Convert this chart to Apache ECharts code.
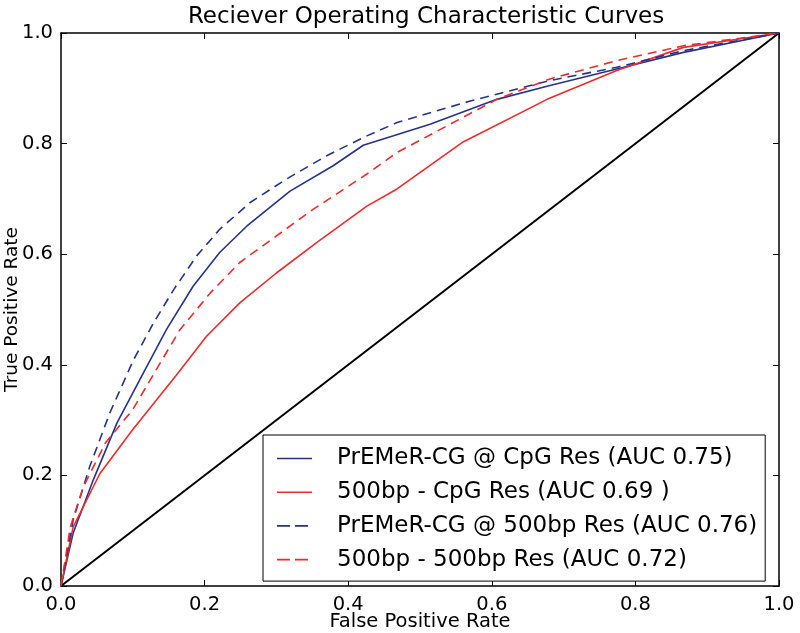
<!DOCTYPE html>
<html>
<head>
<meta charset="utf-8">
<script src="https://cdn.jsdelivr.net/npm/echarts@6/dist/echarts.min.js"></script>
<style>html,body{margin:0;padding:0;background:#fff}#c{width:800px;height:633px}</style>
</head>
<body>
<div id="c"></div>
<script>
// Series names
const seriesNames = [
  'PrEMeR-CG @ CpG Res (AUC 0.75)',
  '500bp - CpG Res (AUC 0.69 )',
  'PrEMeR-CG @ 500bp Res (AUC 0.76)',
  '500bp - 500bp Res (AUC 0.72)'
];
// Axis ticks
const tickValues = [0, 0.2, 0.4, 0.6, 0.8, 1.0];

// PrEMeR-CG @ CpG Res
const fprA = [0, 0.017, 0.045, 0.078, 0.117, 0.147, 0.184, 0.221, 0.259, 0.319, 0.379, 0.421, 0.514, 0.607, 0.681, 0.774, 0.867, 1];
const tprA = [0, 0.096, 0.192, 0.295, 0.391, 0.464, 0.542, 0.603, 0.651, 0.714, 0.760, 0.797, 0.835, 0.880, 0.905, 0.935, 0.965, 1];
// 500bp - CpG Res
const fprB = [0, 0.017, 0.054, 0.1, 0.16, 0.203, 0.249, 0.300, 0.356, 0.426, 0.468, 0.56, 0.677, 0.774, 0.867, 1];
const tprB = [0, 0.107, 0.203, 0.283, 0.38, 0.452, 0.512, 0.566, 0.621, 0.687, 0.718, 0.803, 0.880, 0.932, 0.974, 1];
// PrEMeR-CG @ 500bp Res
const fprC = [0, 0.017, 0.04, 0.068, 0.101, 0.129, 0.157, 0.189, 0.221, 0.263, 0.314, 0.370, 0.426, 0.468, 0.570, 0.681, 0.774, 0.867, 1];
const tprC = [0, 0.12, 0.216, 0.313, 0.409, 0.476, 0.536, 0.597, 0.645, 0.693, 0.736, 0.778, 0.814, 0.838, 0.877, 0.914, 0.938, 0.968, 1];
// 500bp - 500bp Res
const fprD = [0, 0.013, 0.031, 0.062, 0.1, 0.138, 0.166, 0.208, 0.249, 0.300, 0.351, 0.426, 0.468, 0.607, 0.681, 0.774, 0.867, 1];
const tprD = [0, 0.107, 0.179, 0.259, 0.319, 0.403, 0.464, 0.530, 0.585, 0.633, 0.681, 0.745, 0.784, 0.880, 0.917, 0.950, 0.977, 1];
// Chance diagonal
const fprDiag = [0, 1];
const tprDiag = [0, 1];

const zip = (xs, ys) => xs.map((x, i) => [x, ys[i]]);
const BLUE = '#25338c';
const RED = '#ee2b2b';
const FONT = 'DejaVu Sans';
const ICON_SOLID = 'path://M0,0h35v1.6h-35z';
const ICON_DASH = 'path://M0,0h13v1.6h-13zM18,0h13v1.6h-13zM35,0h0.01v1.6h-0.01z';

const chart = echarts.init(document.getElementById('c'), null, {renderer: 'canvas'});

const axisCommon = {
  type: 'value', min: 0, max: 1, interval: 0.2,
  axisLine: {show: true, onZero: false, lineStyle: {color: '#000', width: 1.5}},
  axisTick: {show: true, inside: true, length: 6, lineStyle: {color: '#000', width: 1}},
  splitLine: {show: false}
};

function mkLine(name, xs, ys, color, dashed) {
  return {
    type: 'line', name: name, data: zip(xs, ys),
    symbol: 'none', showSymbol: false, smooth: false,
    lineStyle: {color: color, width: 1.6, type: dashed ? [9, 6] : 'solid'},
    itemStyle: {color: color},
    z: 3
  };
}

chart.setOption({
  animation: false,
  backgroundColor: '#fff',
  textStyle: {fontFamily: FONT},
  title: {
    text: 'Reciever Operating Characteristic Curves',
    left: 421, top: 1, textAlign: 'center',
    textStyle: {fontFamily: FONT, fontSize: 23, fontWeight: 'normal', color: '#000'}
  },
  grid: {left: 61, right: 21, top: 33, bottom: 47, containLabel: false, outerBoundsMode: 'none'},
  xAxis: [
    Object.assign({}, axisCommon, {
      position: 'bottom',
      name: 'False Positive Rate', nameLocation: 'middle', nameGap: 26, nameMoveOverlap: false,
      nameTextStyle: {fontFamily: FONT, fontSize: 19.5, color: '#000'},
      axisLabel: {show: true, margin: 9, fontFamily: FONT, fontSize: 19.5, color: '#000',
        formatter: v => tickValues.includes(Math.round(v * 10) / 10) ? v.toFixed(1) : ''}
    }),
    Object.assign({}, axisCommon, {position: 'top', axisLabel: {show: false}})
  ],
  yAxis: [
    Object.assign({}, axisCommon, {
      position: 'left',
      name: 'True Positive Rate', nameLocation: 'middle', nameGap: 39, nameMoveOverlap: false,
      nameTextStyle: {fontFamily: FONT, fontSize: 18.5, color: '#000'},
      axisLabel: {show: true, margin: 8, fontFamily: FONT, fontSize: 19.5, color: '#000',
        formatter: v => v.toFixed(1)}
    }),
    Object.assign({}, axisCommon, {position: 'right', axisLabel: {show: false}})
  ],
  legend: {
    orient: 'vertical',
    left: 263, top: 435,
    data: [
      {name: seriesNames[0], icon: ICON_SOLID},
      {name: seriesNames[1], icon: ICON_SOLID},
      {name: seriesNames[2], icon: ICON_DASH},
      {name: seriesNames[3], icon: ICON_DASH}
    ],
    backgroundColor: '#fff',
    borderColor: '#000', borderWidth: 1, borderRadius: 0,
    padding: [12, 8, 10, 14],
    itemWidth: 35, itemHeight: 14, itemGap: 10.7,
    textStyle: {fontFamily: FONT, fontSize: 23, color: '#000', lineHeight: 22, padding: [0, 0, 0, 20]},
    z: 10
  },
  series: [
    {
      type: 'line', name: 'diag', data: zip(fprDiag, tprDiag), symbol: 'none',
      lineStyle: {color: '#000', width: 2}, itemStyle: {color: '#000'}, z: 2
    },
    mkLine(seriesNames[0], fprA, tprA, BLUE, false),
    mkLine(seriesNames[1], fprB, tprB, RED, false),
    mkLine(seriesNames[2], fprC, tprC, BLUE, true),
    mkLine(seriesNames[3], fprD, tprD, RED, true)
  ]
});
</script>
</body>
</html>
